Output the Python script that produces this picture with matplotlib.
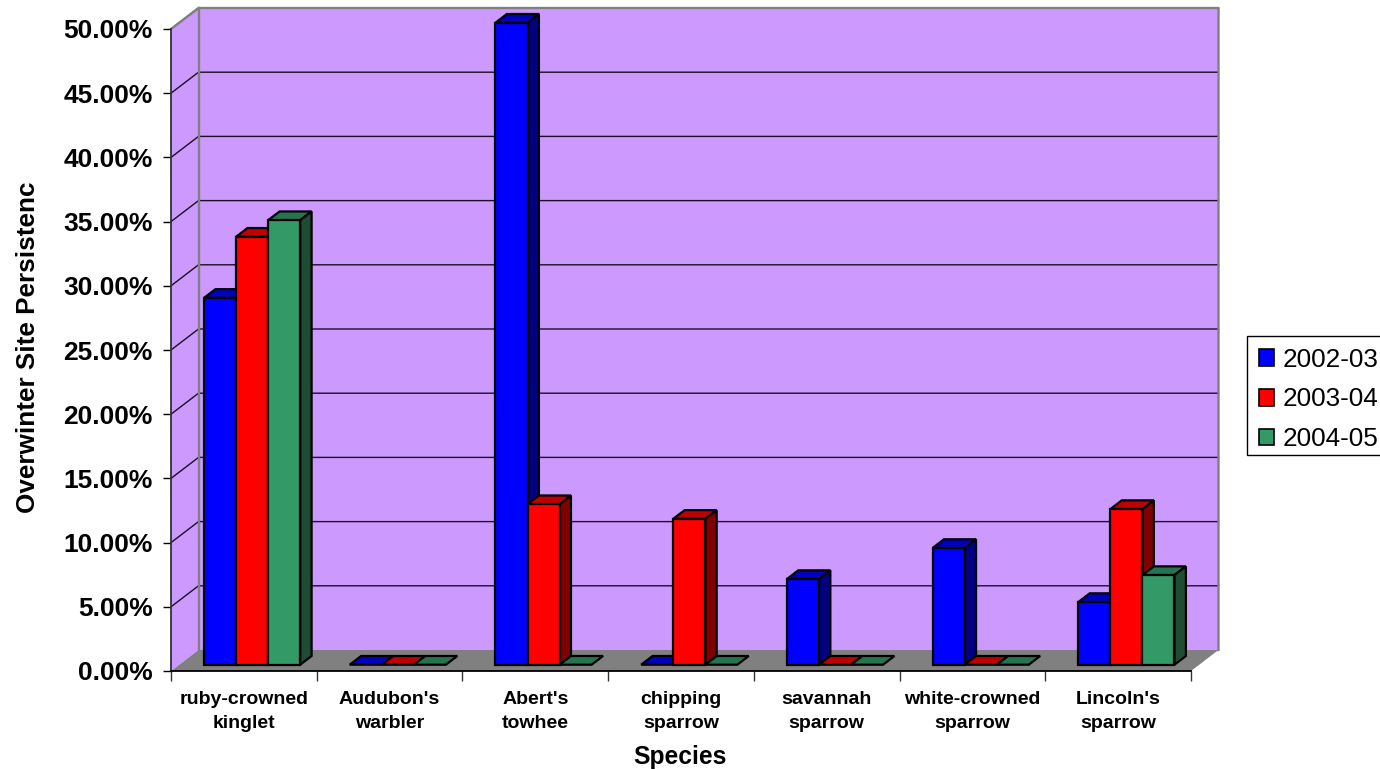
import matplotlib
matplotlib.use("Agg")
import matplotlib.pyplot as plt
from matplotlib.patches import Polygon, Patch, Rectangle

plt.rcParams['font.family'] = ['Liberation Sans', 'DejaVu Sans']

species = ["ruby-crowned\nkinglet", "Audubon's\nwarbler", "Abert's\ntowhee",
           "chipping\nsparrow", "savannah\nsparrow", "white-crowned\nsparrow",
           "Lincoln's\nsparrow"]
seasons = ["2002-03", "2003-04", "2004-05"]
persist_2002 = [28.57, 0, 50.0, 0, 6.67, 9.09, 4.88]
persist_2003 = [33.33, 0, 12.5, 11.36, 0, 0, 12.12]
persist_2004 = [34.62, 0, 0, 0, 0, 0, 6.98]
series = [persist_2002, persist_2003, persist_2004]
y_ticks = [0, 5, 10, 15, 20, 25, 30, 35, 40, 45, 50]

front_colors = ["#0000FF", "#FF0000", "#339966"]
top_colors = ["#0000BF", "#BF0000", "#267350"]
side_colors = ["#000080", "#800000", "#1F4D33"]

W, H = 1380, 769
fig = plt.figure(figsize=(W / 100, H / 100), dpi=100, facecolor="white")
L, R, T, B = 171, 1191, 29, 671
ax = fig.add_axes([L / W, 1 - B / H, (R - L) / W, (B - T) / H])
ax.set_xlim(0, 7)
ax.set_ylim(0, 50)
ax.patch.set_visible(False)

# Full chart depth expressed in data units (oblique projection)
DEPTH_X = 27.5 / ((R - L) / 7)
DEPTH_Y = 21 / ((B - T) / 50)


def at(x, y, d):
    return (x + d * DEPTH_X, y + d * DEPTH_Y)


def face(points, fc, ec="none", lw=0.0, z=1):
    ax.add_patch(Polygon(points, closed=True, facecolor=fc, edgecolor=ec,
                         linewidth=lw, clip_on=False, zorder=z, joinstyle="miter"))


WALL = "#CC99FF"
FLOOR = "#808080"
BORDER = "#808080"

# Back wall, side wall and floor
face([at(0, 0, 1), at(7, 0, 1), at(7, 50, 1), at(0, 50, 1)], WALL, z=1)
face([at(0, 0, 0), at(0, 0, 1), at(0, 50, 1), at(0, 50, 0)], WALL, z=1)
face([at(0, 0, 0), at(7, 0, 0), at(7, 0, 1), at(0, 0, 1)], FLOOR, z=1)

# Gridlines run across the back wall and down the side wall
for v in y_ticks[1:]:
    xs, ys = zip(at(0, v, 0), at(0, v, 1), at(7, v, 1))
    ax.plot(xs, ys, color="#1a1020", lw=1.0, clip_on=False, zorder=2,
            solid_joinstyle="miter")

# Wall outline
xs, ys = zip(at(0, 50, 0), at(0, 50, 1), at(7, 50, 1), at(7, 0, 1))
ax.plot(xs, ys, color=BORDER, lw=1.7, clip_on=False, zorder=3)
xs, ys = zip(at(0, 0, 1), at(0, 50, 1))
ax.plot(xs, ys, color=BORDER, lw=1.7, clip_on=False, zorder=3)

# Bars: each box is top, side, then front so later bars overlap earlier ones
GAP, BAR_W, D0, D1 = 0.17, 0.22, 0.30, 0.715
z = 4
for cat in range(len(species)):
    for s, vals in enumerate(series):
        v = vals[cat]
        x0 = cat + GAP + s * BAR_W
        x1 = x0 + BAR_W
        kw = dict(ec="black", lw=1.6)
        face([at(x0, v, D0), at(x1, v, D0), at(x1, v, D1), at(x0, v, D1)],
             top_colors[s], z=z, **kw)
        if v > 0:
            face([at(x1, 0, D0), at(x1, 0, D1), at(x1, v, D1), at(x1, v, D0)],
                 side_colors[s], z=z, **kw)
            face([at(x0, 0, D0), at(x1, 0, D0), at(x1, v, D0), at(x0, v, D0)],
                 front_colors[s], z=z, **kw)
        z += 1

# Axes
for name in ("top", "right"):
    ax.spines[name].set_visible(False)
ax.spines["bottom"].set_color("black")
ax.spines["left"].set_color("#333333")
for name in ("bottom", "left"):
    ax.spines[name].set_linewidth(1.3)
    ax.spines[name].set_zorder(3)

ax.set_yticks(y_ticks)
ax.set_yticklabels([f"{v:.2f}%" for v in y_ticks], fontsize=19, fontweight="bold")
ax.tick_params(axis="y", length=6, width=1.0, pad=7, color="black")

ax.set_xticks(range(8))
ax.set_xticklabels([])
ax.tick_params(axis="x", which="major", length=7.2, width=1.0, color="#333333")
ax.set_xticks([i + 0.5 for i in range(7)], minor=True)
ax.set_xticklabels(species, minor=True, fontsize=14, fontweight="bold",
                   linespacing=1.56)
ax.tick_params(axis="x", which="minor", length=0, pad=14.5)

ax.set_ylabel("Overwinter Site Persistenc", fontsize=18.8, fontweight="bold")
ax.yaxis.set_label_coords((28 - L) / (R - L), (B - 347) / (B - T))
ax.set_xlabel("Species", fontsize=17.7, fontweight="bold")
ax.xaxis.set_label_coords((680 - L) / (R - L), (B - 757) / (B - T))
ax.xaxis.label.set_verticalalignment("center")
ax.yaxis.label.set_verticalalignment("center")

# Legend frame runs past the right edge of the figure
fig.add_artist(Rectangle((1247 / W, 1 - 455 / H), 140 / W, 119 / H,
                         transform=fig.transFigure, facecolor="white",
                         edgecolor="black", linewidth=1.0))
handles = [Patch(facecolor=c, edgecolor="black", linewidth=1.2) for c in front_colors]
leg = fig.legend(handles, seasons, loc="upper left",
                 bbox_to_anchor=(1247 / W, 1 - 336 / H), bbox_transform=fig.transFigure,
                 borderaxespad=0, fontsize=18.8, frameon=False,
                 handlelength=0.6, handleheight=0.6,
                 handletextpad=0.32, labelspacing=0.6, borderpad=0.45)

fig.savefig("out.png", dpi=100)
